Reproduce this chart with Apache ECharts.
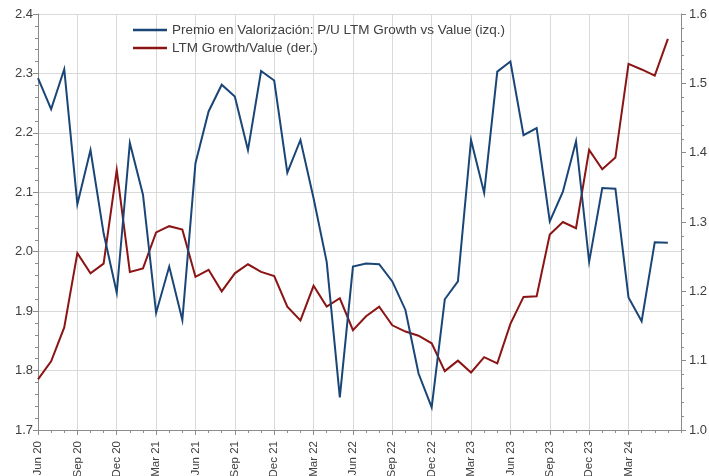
<!DOCTYPE html>
<html>
<head>
<meta charset="utf-8">
<script src="https://cdn.jsdelivr.net/npm/echarts@6/dist/echarts.min.js"></script>
<style>
html,body{margin:0;padding:0;background:#fff;}
#chart{width:709px;height:476px;}
</style>
</head>
<body>
<div id="chart"></div>
<script>
const categories = ['Jun 20','Jul 20','Aug 20','Sep 20','Oct 20','Nov 20','Dec 20','Jan 21','Feb 21','Mar 21','Apr 21','May 21','Jun 21','Jul 21','Aug 21','Sep 21','Oct 21','Nov 21','Dec 21','Jan 22','Feb 22','Mar 22','Apr 22','May 22','Jun 22','Jul 22','Aug 22','Sep 22','Oct 22','Nov 22','Dec 22','Jan 23','Feb 23','Mar 23','Apr 23','May 23','Jun 23','Jul 23','Aug 23','Sep 23','Oct 23','Nov 23','Dec 23','Jan 24','Feb 24','Mar 24','Apr 24','May 24','Jun 24','Jul 24'];

const premioPU = [2.292,2.240,2.307,2.080,2.171,2.031,1.931,2.183,2.096,1.897,1.975,1.885,2.149,2.236,2.281,2.261,2.171,2.304,2.288,2.133,2.188,2.090,1.983,1.755,1.975,1.980,1.979,1.950,1.902,1.795,1.738,1.920,1.950,2.188,2.099,2.303,2.320,2.196,2.208,2.051,2.101,2.186,1.983,2.107,2.106,1.923,1.883,2.016,2.015];

const growthValue = [1.073,1.099,1.148,1.255,1.226,1.240,1.375,1.228,1.233,1.285,1.294,1.289,1.221,1.231,1.200,1.226,1.239,1.228,1.222,1.178,1.158,1.208,1.178,1.190,1.144,1.164,1.178,1.151,1.142,1.136,1.125,1.085,1.100,1.083,1.105,1.096,1.153,1.192,1.193,1.282,1.300,1.291,1.404,1.376,1.393,1.528,1.520,1.511,1.564];

const seriesNames = ['Premio en Valorización: P/U LTM Growth vs Value (izq.)','LTM Growth/Value (der.)'];

const FONT = 'Liberation Sans';
const TXT = '#404040';
const AX = '#8c8c8c';
const GRID = '#d9d9d9';
const lastLabelIdx = 45;
const isMajor = (i) => i % 3 === 0 && i <= lastLabelIdx;

const chart = echarts.init(document.getElementById('chart'));
chart.setOption({
  animation: false,
  backgroundColor: '#fff',
  textStyle: {fontFamily: FONT},
  grid: {left: 38, right: 28, top: 14, bottom: 46, containLabel: false, outerBoundsMode: 'none'},
  legend: {
    orient: 'vertical',
    left: 133, top: 23, padding: 0,
    itemWidth: 34, itemHeight: 2.5, itemGap: 4,
    icon: 'rect',
    textStyle: {color: TXT, fontSize: 13.5, fontFamily: FONT},
    data: seriesNames
  },
  xAxis: [{
    type: 'category',
    data: categories,
    boundaryGap: false,
    axisLine: {show: true, lineStyle: {color: AX, width: 1}},
    axisTick: {show: true, interval: (i) => isMajor(i), length: 5, lineStyle: {color: AX}},
    axisLabel: {interval: (i) => isMajor(i), rotate: 90, color: TXT, fontSize: 11.5, fontFamily: FONT, margin: 11},
    splitLine: {show: true, interval: (i) => isMajor(i) && i > 0, lineStyle: {color: GRID, width: 1}}
  },{
    type: 'category',
    data: categories,
    boundaryGap: false,
    position: 'bottom',
    axisLine: {show: false},
    axisTick: {show: true, interval: 0, length: 3, lineStyle: {color: AX}},
    axisLabel: {show: false},
    splitLine: {show: false}
  }],
  yAxis: [{
    type: 'value',
    min: 1.7, max: 2.4, interval: 0.1,
    position: 'left',
    axisLine: {show: true, lineStyle: {color: AX}},
    axisTick: {show: true, length: 5, lineStyle: {color: AX}},
    minorTick: {show: true, splitNumber: 5, length: 3, lineStyle: {color: AX}},
    axisLabel: {color: TXT, fontSize: 13, fontFamily: FONT, margin: 5, formatter: (v) => v.toFixed(1)},
    splitLine: {show: true, lineStyle: {color: GRID, width: 1}}
  },{
    type: 'value',
    min: 1.0, max: 1.6, interval: 0.1,
    position: 'right',
    axisLine: {show: true, lineStyle: {color: AX}},
    axisTick: {show: true, length: 5, lineStyle: {color: AX}},
    minorTick: {show: true, splitNumber: 5, length: 3, lineStyle: {color: AX}},
    axisLabel: {color: TXT, fontSize: 13, fontFamily: FONT, margin: 8, formatter: (v) => v.toFixed(1)},
    splitLine: {show: false}
  }],
  series: [{
    name: seriesNames[0],
    type: 'line',
    xAxisIndex: 0, yAxisIndex: 0,
    data: premioPU,
    symbol: 'none',
    color: '#1a4677',
    lineStyle: {width: 2, color: '#1a4677', join: 'miter'},
    z: 3
  },{
    name: seriesNames[1],
    type: 'line',
    xAxisIndex: 0, yAxisIndex: 1,
    data: growthValue,
    symbol: 'none',
    color: '#8b1414',
    lineStyle: {width: 2, color: '#8b1414', join: 'miter'},
    z: 2
  }]
});
</script>
</body>
</html>
